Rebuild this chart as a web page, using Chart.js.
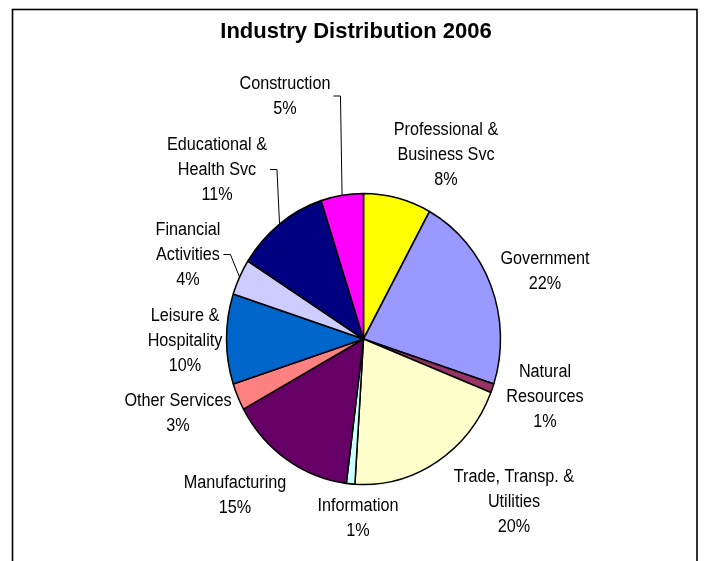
<!DOCTYPE html>
<html>
<head>
<meta charset="utf-8">
<title>Industry Distribution 2006</title>
<script src="https://cdn.jsdelivr.net/npm/chart.js@4/dist/chart.umd.min.js"></script>
<style>
  html, body { margin: 0; padding: 0; background: #ffffff; }
  canvas { display: block; }
</style>
</head>
<body>
<canvas id="chart" width="704" height="561"></canvas>
<script>
// Industry shares (percent), clockwise from 12 o'clock
const industries = [
  'Professional & Business Svc', 'Government', 'Natural Resources',
  'Trade, Transp. & Utilities', 'Information', 'Manufacturing',
  'Other Services', 'Leisure & Hospitality', 'Financial Activities',
  'Educational & Health Svc', 'Construction'
];
const labelLines = [
  ['Professional &', 'Business Svc'], ['Government'], ['Natural', 'Resources'],
  ['Trade, Transp. &', 'Utilities'], ['Information'], ['Manufacturing'],
  ['Other Services'], ['Leisure &', 'Hospitality'], ['Financial', 'Activities'],
  ['Educational &', 'Health Svc'], ['Construction']
];
const shares = [8, 22, 1, 20, 1, 15, 3, 10, 4, 11, 5];

const sliceColors = [
  '#FFFF00', '#9999FF', '#993366', '#FFFFCC', '#CCFFFF', '#660066',
  '#FF8080', '#0066CC', '#CCCCFF', '#000080', '#FF00FF'
];

// Label placement: centre x and first baseline y; leader = draw a connector line
const labelLayout = [
  { x: 446, y: 135 }, { x: 545, y: 264 }, { x: 545, y: 377 },
  { x: 514, y: 482 }, { x: 358, y: 511 }, { x: 235, y: 488 },
  { x: 178, y: 406 }, { x: 185, y: 321 }, { x: 188, y: 235, leader: true },
  { x: 217, y: 150, leader: true }, { x: 285, y: 89, leader: true }
];

const PIE_SCALE_Y = 1.062;   // the pie is drawn slightly taller than wide
const LINE_GAP = 25;
const LABEL_FONT = '18px "Liberation Sans", Arial, sans-serif';
const TEXT_SQUEEZE = 0.9;

function drawSqueezedText(ctx, text, x, y) {
  ctx.save();
  ctx.translate(x, y);
  ctx.scale(TEXT_SQUEEZE, 1);
  ctx.fillText(text, 0, 0);
  ctx.restore();
}

const ellipsePlugin = {
  id: 'ellipsePie',
  beforeDatasetsDraw(chart) {
    const arc = chart.getDatasetMeta(0).data[0];
    const ctx = chart.ctx;
    ctx.save();
    ctx.translate(arc.x, arc.y);
    ctx.scale(1, PIE_SCALE_Y);
    ctx.translate(-arc.x, -arc.y);
  },
  afterDatasetsDraw(chart) {
    chart.ctx.restore();
  }
};

const decorPlugin = {
  id: 'decor',
  beforeDraw(chart) {
    const ctx = chart.ctx;
    ctx.save();
    ctx.fillStyle = '#ffffff';
    ctx.fillRect(0, 0, chart.width, chart.height);
    ctx.restore();
  },
  afterDraw(chart) {
    const ctx = chart.ctx;
    const meta = chart.getDatasetMeta(0);

    // outer frame
    ctx.save();
    ctx.strokeStyle = '#000000';
    ctx.lineWidth = 1.6;
    ctx.strokeRect(12.5, 9.5, 684.5, 700);
    ctx.restore();

    // title
    ctx.save();
    ctx.fillStyle = '#000000';
    ctx.font = 'bold 22px "Liberation Sans", Arial, sans-serif';
    ctx.textAlign = 'center';
    ctx.textBaseline = 'alphabetic';
    ctx.fillText('Industry Distribution 2006', 356, 38);
    ctx.restore();

    // slice labels
    ctx.save();
    ctx.fillStyle = '#000000';
    ctx.font = LABEL_FONT;
    ctx.textAlign = 'center';
    ctx.textBaseline = 'alphabetic';
    shares.forEach((v, i) => {
      const pos = labelLayout[i];
      const lines = labelLines[i].concat([v + '%']);
      lines.forEach((t, k) => drawSqueezedText(ctx, t, pos.x, pos.y + k * LINE_GAP));

      if (pos.leader) {
        const arc = meta.data[i];
        const mid = (arc.startAngle + arc.endAngle) / 2;
        const ex = arc.x + arc.outerRadius * Math.cos(mid);
        const ey = arc.y + arc.outerRadius * PIE_SCALE_Y * Math.sin(mid);
        const maxW = Math.max(...lines.map(t => ctx.measureText(t).width)) * TEXT_SQUEEZE;
        const sx = pos.x + maxW / 2 + 3;
        const sy = pos.y + (lines.length - 1) * LINE_GAP / 2 - 6;
        ctx.save();
        ctx.strokeStyle = '#000000';
        ctx.lineWidth = 1;
        ctx.beginPath();
        ctx.moveTo(sx, sy + 0.5);
        ctx.lineTo(sx + 7, sy + 0.5);
        ctx.lineTo(ex, ey);
        ctx.stroke();
        ctx.restore();
      }
    });
    ctx.restore();
  }
};

new Chart(document.getElementById('chart'), {
  type: 'pie',
  data: {
    labels: industries,
    datasets: [{
      data: shares,
      backgroundColor: sliceColors,
      borderColor: '#000000',
      borderWidth: 1.5,
      radius: 137
    }]
  },
  options: {
    responsive: false,
    animation: false,
    rotation: 0,
    layout: { padding: { left: 60, right: 37, top: 150, bottom: 33 } },
    plugins: {
      legend: { display: false },
      title: { display: false },
      tooltip: { enabled: false }
    }
  },
  plugins: [ellipsePlugin, decorPlugin]
});
</script>
</body>
</html>
